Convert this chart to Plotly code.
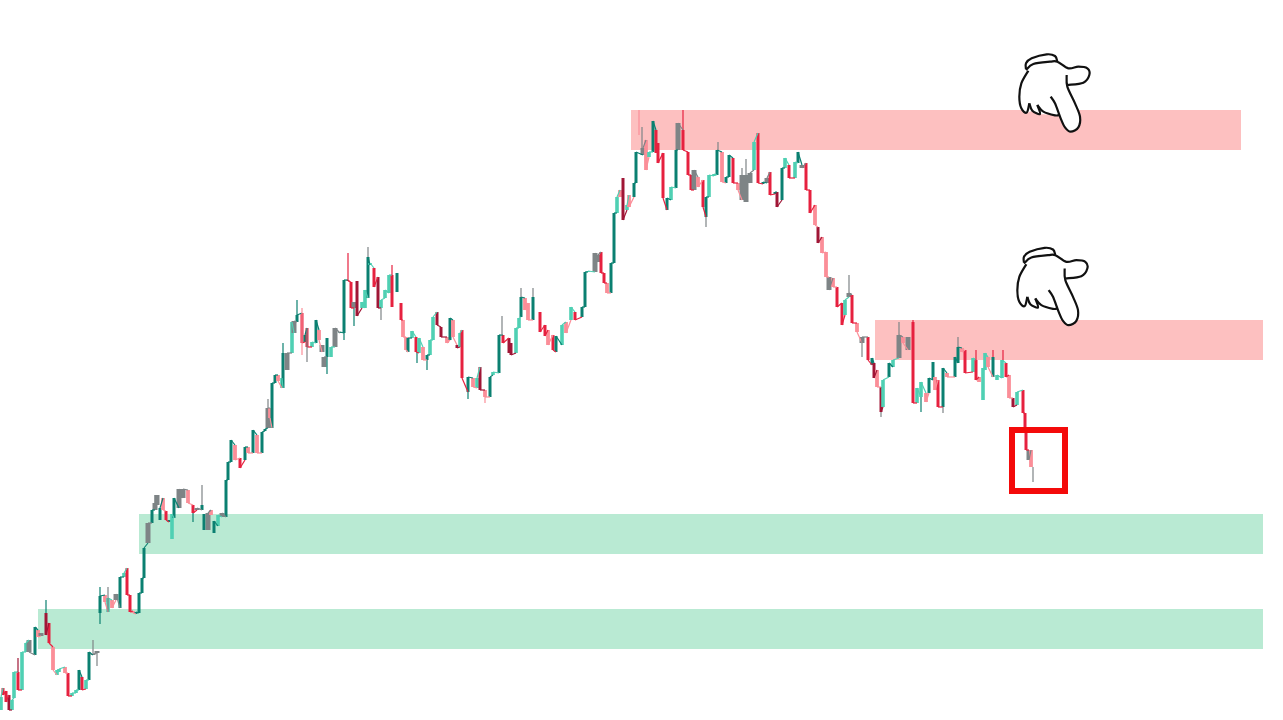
import plotly.graph_objects as go

# Candles: position along the time axis, open, close and shade.
bar_x = [
    1,3,6,9,12,14,18,22,26,29,35,38,41,46,49,53,57,59,65,68,72,76,79,82,86,89,93,97,
    100,105,108,112,116,120,124,127,130,133,136,139,142,144,148,152,155,157,160,163,166,169,172,174,179,183,188,193,197,202,204,208,211,214,218,222,226,
    228,231,235,240,245,248,253,257,262,265,268,270,272,275,278,282,283,287,292,294,297,302,305,307,312,316,319,322,324,327,331,335,340,344,
    348,351,354,357,362,365,368,370,374,378,381,385,389,392,397,401,403,406,408,412,416,419,423,427,430,433,437,441,447,450,453,457,460,462,
    468,473,477,480,485,490,493,499,503,509,511,516,519,521,525,528,533,540,545,548,553,556,562,566,571,575,582,585,588,595,598,601,604,607,611,614,617,
    620,623,627,629,634,636,643,646,649,653,656,658,663,667,671,676,678,683,688,691,694,698,703,706,709,714,717,722,726,729,733,738,742,746,750,754,758,
    763,767,770,775,777,782,785,789,795,798,802,806,810,815,818,822,826,829,833,837,842,845,849,852,857,862,868,872,874,877,881,
    883,889,893,899,903,908,913,917,921,926,929,933,935,938,943,947,955,958,962,965,973,976,979,983,985,988,993,997,1002,1006,1009,1013,1017,1023,1025,1026,1029,1031,
]
bar_open = [
    10,32,29,25,10,22,48,30,68,80,65,90,84,107,97,73,45,48,53,47,24,27,30,43,31,40,65,67,
    107,125,108,120,120,112,143,152,125,109,106,107,127,142,177,197,210,215,200,222,209,198,181,202,212,222,230,215,210,210,190,190,210,187,194,203,203,
    240,258,275,262,260,273,267,285,267,289,292,312,292,337,345,332,332,350,367,387,398,407,378,392,373,377,390,368,353,363,363,373,387,387,
    440,438,412,439,412,412,422,455,452,443,412,422,427,445,428,417,400,383,368,382,383,367,373,360,365,380,408,393,383,380,400,375,373,390,
    328,342,332,353,330,323,345,347,385,382,377,367,392,403,422,417,400,408,395,390,385,368,375,398,400,408,403,413,448,448,458,468,447,437,427,457,507,
    530,542,510,525,523,537,565,580,563,568,590,577,567,510,520,532,570,590,568,545,530,543,540,503,523,544,545,568,537,543,562,537,520,518,537,550,587,
    536,537,548,526,528,520,552,555,542,557,555,557,530,515,493,483,468,443,442,433,417,405,423,425,397,377,383,355,357,350,333,
    313,343,353,362,383,370,398,317,323,327,327,340,343,340,313,347,343,357,372,370,348,360,343,320,350,363,343,340,342,357,345,322,315,330,307,290,270,270,
]
bar_close = [
    23,25,18,10,20,48,30,68,77,68,93,83,87,85,77,50,50,51,47,24,27,30,50,30,40,68,66,69,
    124,118,122,112,126,143,147,125,108,107,108,127,142,172,197,210,217,225,212,210,200,200,206,222,231,231,217,207,212,215,206,207,205,199,205,207,240,
    258,280,260,252,273,267,290,267,288,291,312,302,337,345,339,342,367,367,398,399,405,377,385,373,378,400,380,375,363,382,373,392,388,440,
    439,412,418,404,418,430,463,457,433,412,420,430,445,413,447,400,383,370,382,389,368,382,360,365,380,403,395,383,377,402,383,372,387,342,
    343,333,342,330,323,343,348,385,377,367,365,392,402,423,410,400,423,388,384,375,370,384,395,387,413,400,413,448,449,467,465,447,437,427,457,507,523,
    523,500,515,513,537,568,572,550,568,599,567,557,522,522,533,570,597,570,545,530,550,533,513,523,545,546,570,538,543,565,537,530,545,545,547,578,537,
    538,542,525,528,513,552,562,542,558,568,552,530,507,495,477,467,443,430,433,413,395,420,427,397,388,383,360,362,342,333,308,
    340,357,360,385,377,383,317,332,338,318,342,358,330,313,352,343,363,373,368,347,362,340,338,352,367,353,363,345,360,343,322,313,328,307,290,270,260,253,
]
bar_shade = (
    "TRRKTTRTTGDPGKRPTTPRTTDRTDGG"
    "DPTPGDTRRPDDDDGDGGDPRDTDGGPRGDDGPDTGD"
    "DDPRDPDPDDGPDDPTDGTGDRDRTDPGGDTGDD"
    "RRGKTTDTRKTTTRDRPPDTRTPDTTKKPDPKTR"
    "DPTKPDTDRKKTTDPPDRRPRDTPTRDDTGGRRPDDT"
    "PKTPDDGPTDRRRDTDGRRRGPRDTTDPDDRPGGGTR"
    "DGRDKDTRTDGRRPKPPGPRRTGRPGRDKPK"
    "TDTGPGRTTPDDPRDPDDPRTRPTTPDTTRPKTRRRGP"
)
# Thin wicks, listed only where a candle has one.
wick_x = [18,46,93,97,100,108,155,193,202,268,283,297,302,307,327,344,348,354,368,381,392,417,427,468,485,502,521,533,639,642,683,706,718,742,746,849,862,881,899,913,921,943,958,976,993,1003,1033]
wick_high = [62,120,80,68,133,133,225,207,235,321,377,420,412,392,363,387,467,412,473,412,455,368,360,328,323,404,432,432,610,593,610,503,578,552,561,445,383,308,398,400,323,313,383,370,370,370,253]
wick_low = [48,107,66,54,96,108,217,198,215,312,367,405,365,358,346,380,440,394,463,400,445,357,350,321,317,385,423,423,585,572,590,493,570,545,545,427,363,303,385,398,308,307,373,360,363,360,238]
wick_shade = "KDGGDGGDGGDDPGDDRDGGRDDDPGGGPGRGGGGGGGGRDGGRRRG"

# Supply (red) and demand (green) zones: start of zone, end of zone, price band.
supply_start = [631, 875]
supply_end = [1241, 1263]
supply_low = [570, 360]
supply_high = [610, 400]
demand_start = [139, 38]
demand_end = [1263, 1263]
demand_low = [166, 71]
demand_high = [206, 111]

# Highlighted last candles.
box_x = [1012, 1065]
box_price = [229, 290]

# Hand drawing, as traced (units are a third of a chart unit).
hand_outline = [(75,88),(64,130),(58,170),(64,205),(80,218),(95,214),(120,222),(165,226),(182,235),(195,262),(212,275),(235,262),(240,230),(225,190),(203,140),(250,128),(268,105),(262,85),(235,80),(205,85),(175,65),(165,48),(140,43),(95,55),(78,70),(75,88)]
hand_strokes = [
    [(78,88),(78,70),(95,55),(140,43),(165,48),(172,65)],
    [(78,90),(100,72),(150,65),(172,65),(205,85),(235,80),(262,85),(268,105),(250,128),(203,135)],
    [(200,105),(202,140),(225,190),(240,230),(235,262),(212,275),(195,262),(182,235),(165,190),(152,170)],
    [(85,92),(64,130),(58,170),(64,205),(80,218),(88,190)],
    [(88,190),(97,212),(120,222),(112,195)],
    [(112,195),(130,215),(165,226),(178,225)],
]
hand_anchor_x = [1000, 998]
hand_anchor_price = [680, 486.5]

SHADE_COLORS = {"D": "#0b8071", "T": "#4fd0b3", "R": "#e6213f", "P": "#fb8e98", "K": "#a01636", "G": "#7e8486"}
SHADE_WIDTHS = {"D": 3, "T": 3.6, "R": 3, "P": 3.8, "K": 3, "G": 5}
ZONE_RED = "#fdc0c0"
ZONE_GREEN = "#b9ead3"
MAX_JOIN = 14

assert len(bar_x) == len(bar_open) == len(bar_close) == len(bar_shade), (len(bar_x), len(bar_open), len(bar_close), len(bar_shade))
assert len(wick_x) == len(wick_high) == len(wick_low) == len(wick_shade), (len(wick_x), len(wick_high), len(wick_low), len(wick_shade))


def smooth_path(points, ax, ay, close=False):
    pts = [(ax + px / 3, ay - py / 3) for px, py in points]
    d = "M %.2f %.2f" % pts[0]
    for i in range(len(pts) - 1):
        p0 = pts[max(i - 1, 0)]
        p1 = pts[i]
        p2 = pts[i + 1]
        p3 = pts[min(i + 2, len(pts) - 1)]
        c1 = (p1[0] + (p2[0] - p0[0]) / 6, p1[1] + (p2[1] - p0[1]) / 6)
        c2 = (p2[0] - (p3[0] - p1[0]) / 6, p2[1] - (p3[1] - p1[1]) / 6)
        d += " C %.2f %.2f %.2f %.2f %.2f %.2f" % (*c1, *c2, *p2)
    return d + (" Z" if close else "")


shapes = []
for x0, x1, lo, hi in zip(supply_start, supply_end, supply_low, supply_high):
    shapes.append(dict(type="rect", layer="below", x0=x0, x1=x1, y0=lo, y1=hi, fillcolor=ZONE_RED, line_width=0))
for x0, x1, lo, hi in zip(demand_start, demand_end, demand_low, demand_high):
    shapes.append(dict(type="rect", layer="below", x0=x0, x1=x1, y0=lo, y1=hi, fillcolor=ZONE_GREEN, line_width=0))
shapes.append(dict(type="rect", x0=box_x[0], x1=box_x[1], y0=box_price[0], y1=box_price[1],
                   line=dict(color="#f40a0a", width=6), fillcolor="rgba(0,0,0,0)"))
for ax, ay in zip(hand_anchor_x, hand_anchor_price):
    shapes.append(dict(type="path", path=smooth_path(hand_outline, ax, ay, True), fillcolor="white", line_width=0))
    for stroke in hand_strokes:
        shapes.append(dict(type="path", path=smooth_path(stroke, ax, ay),
                           fillcolor="rgba(0,0,0,0)", line=dict(color="#111111", width=2.2)))

fig = go.Figure()

for shade, color in SHADE_COLORS.items():
    xs, ys = [], []
    for x, hi, lo, s in zip(wick_x, wick_high, wick_low, wick_shade):
        if s == shade:
            xs += [x, x, None]
            ys += [lo, hi, None]
    for i in range(len(bar_x) - 1):
        if bar_shade[i] == shade and abs(bar_close[i] - bar_open[i + 1]) <= MAX_JOIN:
            xs += [bar_x[i], bar_x[i + 1], None]
            ys += [bar_close[i], bar_open[i + 1], None]
    if xs:
        fig.add_trace(go.Scatter(x=xs, y=ys, mode="lines", line=dict(color=color, width=1.2),
                                 hoverinfo="skip", showlegend=False))

fig.add_trace(go.Bar(
    x=bar_x,
    base=bar_open,
    y=[c - o for o, c in zip(bar_open, bar_close)],
    width=[SHADE_WIDTHS[s] for s in bar_shade],
    marker=dict(color=[SHADE_COLORS[s] for s in bar_shade], line_width=0),
    showlegend=False,
))

fig.update_layout(
    width=1283, height=720,
    margin=dict(l=0, r=0, t=0, b=0),
    paper_bgcolor="white", plot_bgcolor="white",
    showlegend=False,
    shapes=shapes,
    xaxis=dict(range=[0, 1283], visible=False, fixedrange=True),
    yaxis=dict(range=[0, 720], visible=False, fixedrange=True),
)
fig.write_html("out.html", config={"displayModeBar": False},
               post_script="document.body.style.margin='0';document.documentElement.style.overflow='hidden';")
